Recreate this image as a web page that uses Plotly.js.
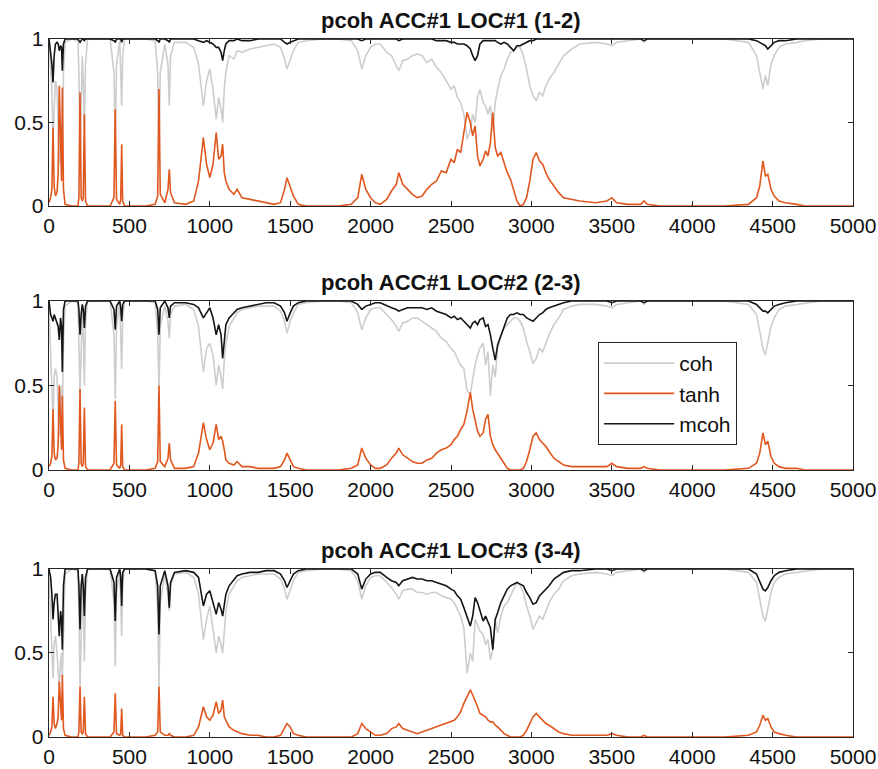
<!DOCTYPE html>
<html>
<head>
<meta charset="utf-8">
<script src="https://cdn.plot.ly/plotly-3.0.1.min.js"></script>
<style>
  html, body { margin: 0; padding: 0; background: #ffffff; }
  #chart { width: 878px; height: 769px; }
</style>
</head>
<body>
<div id="chart"></div>
<script>
// Frequency grid (Hz), 10 values per line
const freq = [
  0, 10, 18, 25, 32, 40, 50, 57, 64, 72,
  78, 83, 90, 100, 140, 180, 186, 193, 200, 207,
  213, 220, 227, 240, 300, 380, 404, 412, 420, 440,
  446, 452, 458, 470, 520, 600, 660, 676, 684, 692,
  720, 740, 748, 756, 780, 850, 900, 930, 960, 980,
  1000, 1020, 1040, 1055, 1070, 1080, 1090, 1100, 1120, 1150,
  1170, 1200, 1250, 1300, 1350, 1400, 1440, 1465, 1480, 1500,
  1520, 1550, 1600, 1700, 1800, 1880, 1920, 1945, 1970, 2000,
  2030, 2060, 2100, 2130, 2160, 2175, 2200, 2230, 2260, 2290,
  2320, 2350, 2380, 2410, 2440, 2470, 2500, 2520, 2540, 2560,
  2580, 2600, 2620, 2635, 2650, 2665, 2680, 2700, 2715, 2730,
  2745, 2760, 2775, 2790, 2810, 2830, 2850, 2870, 2890, 2910,
  2930, 2950, 2970, 2990, 3010, 3030, 3050, 3070, 3090, 3110,
  3140, 3170, 3200, 3250, 3300, 3400, 3470, 3500, 3530, 3600,
  3680, 3700, 3720, 3800, 4000, 4200, 4350, 4400, 4420, 4440,
  4455, 4470, 4490, 4510, 4540, 4580, 4650, 4700, 4800, 4900,
  5000
];

// Panel 1: LOC#1 (1-2)
const coh1 = [
  0.97, 0.85, 0.7, 0.4, 0.6, 0.75, 0.7, 0.5, 0.25, 0.45,
  0.5, 0.28, 0.8, 0.98, 1, 0.99, 0.8, 0.3, 0.6, 0.9,
  0.75, 0.45, 0.85, 1, 1, 1, 0.8, 0.4, 0.85, 0.99,
  0.8, 0.6, 0.9, 1, 1, 1, 0.99, 0.8, 0.3, 0.8,
  0.97, 0.85, 0.6, 0.9, 0.98, 0.98, 0.95, 0.85, 0.6, 0.75,
  0.82, 0.7, 0.52, 0.65, 0.58, 0.5, 0.7, 0.8, 0.9, 0.88,
  0.93, 0.92, 0.94, 0.95, 0.96, 0.97, 0.95, 0.88, 0.82, 0.88,
  0.93, 0.98, 0.99, 1, 1, 0.99, 0.93, 0.82, 0.9, 0.95,
  0.97, 0.97, 0.92, 0.9, 0.84, 0.81, 0.87, 0.88, 0.9, 0.91,
  0.9, 0.86, 0.88, 0.83, 0.8, 0.75, 0.7, 0.72, 0.65, 0.62,
  0.55, 0.4, 0.45, 0.55, 0.5, 0.65, 0.7, 0.62, 0.6, 0.55,
  0.6, 0.45, 0.62, 0.7, 0.78, 0.82, 0.88, 0.92, 0.93, 0.95,
  0.95, 0.9, 0.82, 0.72, 0.66, 0.63, 0.68, 0.66, 0.72, 0.76,
  0.8, 0.85, 0.9, 0.94, 0.97, 0.98, 0.97, 0.96, 0.98, 0.99,
  1, 0.98, 1, 1, 1, 1, 0.98, 0.9, 0.8, 0.7,
  0.78, 0.72, 0.85, 0.9, 0.95, 0.97, 0.98, 0.99, 1, 1,
  1
];
const tanh1 = [
  0.02, 0.05, 0.1, 0.47, 0.12, 0.06, 0.08, 0.2, 0.72, 0.3,
  0.15, 0.71, 0.1, 0.01, 0, 0, 0.05, 0.68, 0.05, 0.03,
  0.05, 0.55, 0.03, 0, 0, 0, 0.05, 0.58, 0.04, 0.01,
  0.04, 0.37, 0.03, 0, 0, 0, 0.01, 0.06, 0.70, 0.07,
  0.02, 0.1, 0.22, 0.08, 0.02, 0.01, 0.03, 0.15, 0.41, 0.25,
  0.17, 0.25, 0.44, 0.28, 0.3, 0.37, 0.2, 0.15, 0.1, 0.07,
  0.1, 0.05, 0.04, 0.03, 0.02, 0.01, 0.02, 0.1, 0.17, 0.11,
  0.06, 0.01, 0, 0, 0, 0.01, 0.05, 0.19, 0.1, 0.05,
  0.02, 0.01, 0.04, 0.09, 0.13, 0.2, 0.13, 0.1, 0.07, 0.05,
  0.06, 0.1, 0.13, 0.15, 0.21, 0.2, 0.28, 0.26, 0.34, 0.32,
  0.45, 0.56, 0.5, 0.42, 0.48, 0.3, 0.24, 0.28, 0.33, 0.3,
  0.38, 0.56, 0.35, 0.3, 0.32, 0.26, 0.2, 0.16, 0.1, 0.03,
  0.0, 0.01, 0.05, 0.15, 0.28, 0.32, 0.27, 0.25, 0.2, 0.16,
  0.12, 0.08, 0.05, 0.04, 0.03, 0.02, 0.03, 0.05, 0.02, 0.01,
  0.01, 0.03, 0.01, 0.0, 0.0, 0.0, 0.01, 0.05, 0.12, 0.27,
  0.18, 0.19, 0.1, 0.06, 0.03, 0.02, 0.01, 0, 0, 0,
  0
];
const mcoh1 = [
  1, 0.92, 0.85, 0.74, 0.9, 0.97, 0.98, 0.97, 0.93, 0.96,
  0.95, 0.81, 0.97, 1, 1, 1, 0.99, 0.98, 0.99, 1,
  1, 0.99, 1, 1, 1, 1, 0.99, 0.98, 1, 1,
  1, 0.98, 1, 1, 1, 1, 1, 0.99, 0.98, 1,
  1, 0.99, 0.98, 1, 1, 1, 1, 0.99, 0.98, 0.99,
  0.98, 0.97, 0.95, 0.95, 0.92, 0.87, 0.93, 0.97, 0.99, 0.99,
  1, 0.99, 0.99, 1, 1, 1, 1, 0.98, 0.97, 0.98,
  0.99, 1, 1, 1, 1, 1, 1, 0.99, 1, 1,
  1, 1, 1, 1, 1, 0.99, 1, 1, 1, 1,
  1, 1, 1, 0.99, 0.99, 0.99, 0.98, 0.98, 0.97, 0.97,
  0.97, 0.96, 0.94, 0.9, 0.87, 0.9, 0.97, 0.99, 0.99, 0.99,
  0.99, 0.99, 0.99, 0.98, 0.97, 0.98, 0.97, 0.95, 0.93, 0.96,
  0.96, 0.97, 0.98, 0.99, 0.99, 1, 1, 1, 1, 1,
  1, 1, 1, 1, 1, 1, 1, 1, 1, 1,
  1, 0.99, 1, 1, 1, 1, 1, 0.99, 0.98, 0.97,
  0.96, 0.94, 0.96, 0.98, 0.99, 0.99, 1, 1, 1, 1,
  1
];

// Panel 2: LOC#2 (2-3)
const coh2 = [
  0.95, 0.7, 0.5, 0.3, 0.55, 0.6, 0.55, 0.4, 0.2, 0.45,
  0.5, 0.3, 0.75, 0.97, 1, 0.99, 0.8, 0.45, 0.7, 0.92,
  0.8, 0.5, 0.88, 1, 1, 1, 0.8, 0.42, 0.85, 0.99,
  0.8, 0.6, 0.9, 1, 1, 1, 0.99, 0.8, 0.48, 0.85,
  0.97, 0.88, 0.78, 0.92, 0.97, 0.98, 0.95, 0.85, 0.58, 0.72,
  0.75, 0.68, 0.5, 0.62, 0.55, 0.48, 0.65, 0.75, 0.85, 0.9,
  0.93, 0.95, 0.96, 0.97, 0.97, 0.97, 0.94, 0.88, 0.81, 0.88,
  0.93, 0.98, 0.99, 1, 1, 0.99, 0.93, 0.83, 0.9, 0.95,
  0.96, 0.96, 0.92, 0.89, 0.85, 0.82, 0.87, 0.88, 0.9, 0.9,
  0.88, 0.86, 0.84, 0.82, 0.78, 0.76, 0.72, 0.7, 0.66, 0.62,
  0.6, 0.47, 0.45, 0.55, 0.62, 0.68, 0.72, 0.75, 0.62, 0.7,
  0.44, 0.62, 0.55, 0.72, 0.8, 0.84, 0.86, 0.88, 0.9, 0.9,
  0.88, 0.84, 0.76, 0.7, 0.63, 0.66, 0.72, 0.7, 0.75, 0.8,
  0.86, 0.9, 0.95, 0.97, 0.98, 0.98, 0.97, 0.96, 0.98, 0.99,
  1, 0.98, 1, 1, 1, 1, 0.98, 0.92, 0.82, 0.72,
  0.68, 0.75, 0.85, 0.9, 0.95, 0.97, 0.98, 0.99, 1, 1,
  1
];
const tanh2 = [
  0.02, 0.04, 0.08, 0.36, 0.1, 0.06, 0.07, 0.15, 0.5, 0.2,
  0.12, 0.44, 0.06, 0.01, 0, 0, 0.04, 0.48, 0.04, 0.02,
  0.04, 0.37, 0.02, 0, 0, 0, 0.04, 0.41, 0.03, 0.01,
  0.03, 0.27, 0.02, 0, 0, 0, 0.01, 0.05, 0.5, 0.05,
  0.02, 0.07, 0.16, 0.06, 0.01, 0.01, 0.02, 0.1, 0.28, 0.18,
  0.12, 0.16, 0.27, 0.18, 0.2, 0.17, 0.12, 0.06, 0.04, 0.03,
  0.05, 0.02, 0.02, 0.01, 0.01, 0.01, 0.02, 0.06, 0.1, 0.06,
  0.02, 0.01, 0, 0, 0, 0.01, 0.03, 0.13, 0.07, 0.03,
  0.01, 0.01, 0.03, 0.07, 0.1, 0.13, 0.09, 0.07, 0.05, 0.04,
  0.04, 0.06, 0.07, 0.1, 0.12, 0.13, 0.15, 0.18, 0.2, 0.24,
  0.27, 0.35, 0.46, 0.36, 0.3, 0.23, 0.2, 0.22, 0.3, 0.33,
  0.2, 0.15, 0.12, 0.1, 0.07, 0.04, 0.01, 0.0, 0.0, 0.0,
  0.0, 0.01, 0.05, 0.12, 0.2, 0.22, 0.18, 0.16, 0.14, 0.11,
  0.07, 0.05, 0.03, 0.02, 0.02, 0.02, 0.02, 0.04, 0.02, 0.01,
  0.01, 0.02, 0.01, 0, 0, 0, 0.01, 0.04, 0.1, 0.22,
  0.15, 0.17, 0.08, 0.04, 0.02, 0.01, 0.01, 0, 0, 0,
  0
];
const mcoh2 = [
  1, 0.92, 0.9, 0.88, 0.92, 0.9, 0.88, 0.85, 0.77, 0.9,
  0.85, 0.58, 0.95, 1, 1, 1, 0.95, 0.8, 0.92, 0.98,
  0.95, 0.84, 0.97, 1, 1, 1, 0.95, 0.83, 0.97, 1,
  0.96, 0.88, 0.98, 1, 1, 1, 1, 0.95, 0.8, 0.96,
  1, 0.96, 0.9, 0.97, 0.99, 0.99, 0.98, 0.96, 0.9, 0.93,
  0.96, 0.9, 0.8, 0.86, 0.8, 0.66, 0.78, 0.86, 0.9, 0.93,
  0.95, 0.96, 0.97, 0.98, 0.99, 0.99, 0.97, 0.93, 0.88, 0.93,
  0.97, 0.99, 1, 1, 1, 1, 0.98, 0.95, 0.97, 0.98,
  0.99, 0.99, 0.97, 0.96, 0.95, 0.94, 0.95, 0.96, 0.96, 0.96,
  0.96, 0.95, 0.96, 0.94, 0.93, 0.92, 0.9, 0.91, 0.89, 0.9,
  0.88, 0.86, 0.84, 0.87, 0.88, 0.86, 0.89, 0.9, 0.85, 0.86,
  0.8, 0.72, 0.65, 0.74, 0.79, 0.84, 0.9, 0.92, 0.92, 0.93,
  0.92, 0.92, 0.9, 0.89, 0.88, 0.9, 0.92, 0.93, 0.95, 0.96,
  0.97, 0.98, 0.99, 1, 1, 1, 1, 0.99, 1, 1,
  1, 0.99, 1, 1, 1, 1, 1, 0.98, 0.96, 0.94,
  0.94, 0.93, 0.95, 0.97, 0.98, 0.99, 1, 1, 1, 1,
  1
];

// Panel 3: LOC#3 (3-4)
const coh3 = [
  0.95, 0.7, 0.5, 0.35, 0.55, 0.6, 0.5, 0.4, 0.3, 0.45,
  0.5, 0.35, 0.7, 0.97, 1, 0.99, 0.75, 0.3, 0.6, 0.9,
  0.75, 0.45, 0.85, 1, 1, 1, 0.8, 0.42, 0.85, 0.99,
  0.8, 0.6, 0.9, 1, 1, 1, 0.99, 0.75, 0.3, 0.8,
  0.97, 0.85, 0.75, 0.9, 0.97, 0.98, 0.95, 0.85, 0.58, 0.7,
  0.78, 0.65, 0.5, 0.6, 0.55, 0.5, 0.62, 0.75, 0.85, 0.9,
  0.93, 0.95, 0.96, 0.97, 0.97, 0.97, 0.94, 0.88, 0.82, 0.88,
  0.93, 0.98, 0.99, 1, 1, 0.99, 0.93, 0.82, 0.9, 0.95,
  0.96, 0.96, 0.92, 0.89, 0.85, 0.82, 0.87, 0.88, 0.88, 0.86,
  0.86, 0.85, 0.86, 0.86, 0.84, 0.83, 0.82, 0.8, 0.76, 0.72,
  0.65, 0.38, 0.5, 0.45, 0.7, 0.66, 0.63, 0.61, 0.55, 0.58,
  0.46, 0.52, 0.7, 0.62, 0.72, 0.78, 0.8, 0.84, 0.88, 0.92,
  0.9, 0.86, 0.78, 0.72, 0.64, 0.68, 0.72, 0.7, 0.75, 0.8,
  0.85, 0.88, 0.93, 0.96, 0.97, 0.98, 0.97, 0.96, 0.98, 0.99,
  1, 0.98, 1, 1, 1, 1, 0.98, 0.92, 0.82, 0.72,
  0.69, 0.76, 0.86, 0.92, 0.95, 0.97, 0.98, 0.99, 1, 1,
  1
];
const tanh3 = [
  0.01, 0.03, 0.06, 0.24, 0.08, 0.05, 0.08, 0.12, 0.33, 0.15,
  0.1, 0.37, 0.05, 0.01, 0, 0, 0.03, 0.3, 0.03, 0.02,
  0.03, 0.24, 0.02, 0, 0, 0, 0.03, 0.26, 0.02, 0.01,
  0.02, 0.17, 0.01, 0, 0, 0, 0.01, 0.03, 0.3, 0.03,
  0.01, 0.01, 0.02, 0.01, 0, 0, 0.01, 0.06, 0.18, 0.12,
  0.1, 0.13, 0.21, 0.14, 0.16, 0.22, 0.12, 0.1, 0.06, 0.04,
  0.03, 0.02, 0.01, 0.01, 0, 0, 0.01, 0.05, 0.08, 0.06,
  0.02, 0.01, 0, 0, 0, 0, 0.02, 0.08, 0.05, 0.03,
  0.01, 0.01, 0.02, 0.05, 0.06, 0.08, 0.05, 0.04, 0.03, 0.02,
  0.03, 0.04, 0.05, 0.06, 0.07, 0.08, 0.09, 0.1, 0.12, 0.15,
  0.2, 0.24, 0.28, 0.25, 0.22, 0.18, 0.14, 0.13, 0.12, 0.1,
  0.09, 0.09, 0.07, 0.06, 0.04, 0.02, 0.01, 0.0, 0.0, 0.0,
  0.0, 0.01, 0.04, 0.08, 0.12, 0.14, 0.12, 0.1, 0.08, 0.07,
  0.05, 0.03, 0.02, 0.01, 0.01, 0.01, 0.01, 0.02, 0.01, 0.0,
  0.0, 0.01, 0.0, 0, 0, 0, 0.01, 0.03, 0.07, 0.13,
  0.1, 0.11, 0.06, 0.03, 0.02, 0.01, 0.0, 0, 0, 0,
  0
];
const mcoh3 = [
  1, 0.95, 0.85, 0.7, 0.8, 0.85, 0.85, 0.75, 0.6, 0.75,
  0.7, 0.52, 0.9, 1, 1, 1, 0.9, 0.64, 0.9, 0.97,
  0.9, 0.72, 0.95, 1, 1, 1, 0.92, 0.69, 0.95, 1,
  0.95, 0.78, 0.98, 1, 1, 1, 0.99, 0.9, 0.61, 0.9,
  0.99, 0.9, 0.77, 0.92, 0.98, 0.99, 0.98, 0.95, 0.78, 0.85,
  0.87, 0.8, 0.73, 0.8, 0.76, 0.72, 0.8, 0.85, 0.9, 0.94,
  0.96, 0.97, 0.98, 0.98, 0.99, 0.99, 0.97, 0.93, 0.89, 0.93,
  0.97, 0.99, 1, 1, 1, 1, 0.97, 0.88, 0.94, 0.97,
  0.98, 0.98, 0.95, 0.93, 0.92, 0.9, 0.93, 0.94, 0.95, 0.94,
  0.94, 0.93, 0.93, 0.92, 0.91, 0.9, 0.88, 0.87, 0.84, 0.82,
  0.77, 0.71, 0.66, 0.72, 0.83, 0.8, 0.75, 0.69, 0.72, 0.68,
  0.65, 0.52, 0.7, 0.74, 0.8, 0.84, 0.88, 0.9, 0.91, 0.92,
  0.91, 0.9, 0.86, 0.83, 0.79, 0.8, 0.84, 0.86, 0.88, 0.9,
  0.94, 0.96, 0.98, 0.99, 0.99, 1, 1, 0.99, 1, 1,
  1, 0.99, 1, 1, 1, 1, 1, 0.97, 0.93, 0.88,
  0.87, 0.89, 0.93, 0.96, 0.98, 0.99, 1, 1, 1, 1,
  1
];

const panelTitles = ['pcoh ACC#1 LOC#1 (1-2)', 'pcoh ACC#1 LOC#2 (2-3)', 'pcoh ACC#1 LOC#3 (3-4)'];
const seriesNames = ['coh', 'tanh', 'mcoh'];
const xTicks = [0, 500, 1000, 1500, 2000, 2500, 3000, 3500, 4000, 4500, 5000];
const yTicks = [0, 0.5, 1];
const yTickText = ['0', '0.5', '1'];

const panels = [[coh1, tanh1, mcoh1], [coh2, tanh2, mcoh2], [coh3, tanh3, mcoh3]];
const colors = ['#cdcdcd', '#e0571f', '#151515'];

const traces = [];
panels.forEach((p, i) => {
  p.forEach((vals, j) => {
    traces.push({
      type: 'scatter', mode: 'lines',
      x: freq, y: vals,
      name: seriesNames[j],
      legendgroup: seriesNames[j],
      showlegend: i === 0,
      line: { color: colors[j], width: 1.6 },
      xaxis: i === 0 ? 'x' : 'x' + (i + 1),
      yaxis: i === 0 ? 'y' : 'y' + (i + 1),
      hoverinfo: 'skip'
    });
  });
});

const FONT = 'Liberation Sans, Arial, Helvetica, sans-serif';
const domains = [[0.7607, 1], [0.3825, 0.6246], [0, 0.2407]];

function xAx(i) {
  return {
    domain: [0, 1], range: [0, 5000], anchor: i === 0 ? 'y' : 'y' + (i + 1),
    tickmode: 'array', tickvals: xTicks, ticktext: xTicks.map(String),
    ticks: 'inside', ticklen: 5, tickwidth: 1, tickcolor: '#262626',
    showline: true, linecolor: '#262626', linewidth: 1.3, mirror: 'ticks',
    showgrid: false, zeroline: false,
    tickfont: { family: FONT, size: 21, color: '#111' }
  };
}
function yAx(i) {
  return {
    domain: domains[i], range: [0, 1], anchor: i === 0 ? 'x' : 'x' + (i + 1),
    tickmode: 'array', tickvals: yTicks, ticktext: yTickText,
    ticks: 'inside', ticklen: 5, tickwidth: 1, tickcolor: '#262626',
    showline: true, linecolor: '#262626', linewidth: 1.3, mirror: 'ticks',
    showgrid: false, zeroline: false,
    tickfont: { family: FONT, size: 21, color: '#111' }
  };
}

const layout = {
  width: 878, height: 769,
  margin: { l: 49, r: 25, t: 39, b: 32 },
  paper_bgcolor: '#ffffff', plot_bgcolor: '#ffffff',
  font: { family: FONT, size: 21, color: '#111' },
  showlegend: true,
  legend: {
    x: 0.683, y: 0.566, xanchor: 'left', yanchor: 'top',
    bgcolor: '#ffffff', bordercolor: '#262626', borderwidth: 1,
    font: { family: FONT, size: 21, color: '#111' },
    itemwidth: 70, tracegroupgap: 0
  },
  annotations: panelTitles.map((t, i) => ({
    text: t, xref: 'paper', yref: 'paper', x: 0.5, y: domains[i][1],
    xanchor: 'center', yanchor: 'bottom', yshift: 4, showarrow: false,
    font: { family: FONT, size: 22, color: '#111', weight: 'bold' }
  }))
};
for (let i = 0; i < 3; i++) {
  layout[i === 0 ? 'xaxis' : 'xaxis' + (i + 1)] = xAx(i);
  layout[i === 0 ? 'yaxis' : 'yaxis' + (i + 1)] = yAx(i);
}

Plotly.newPlot('chart', traces, layout, { displayModeBar: false, staticPlot: true });
</script>
</body>
</html>
